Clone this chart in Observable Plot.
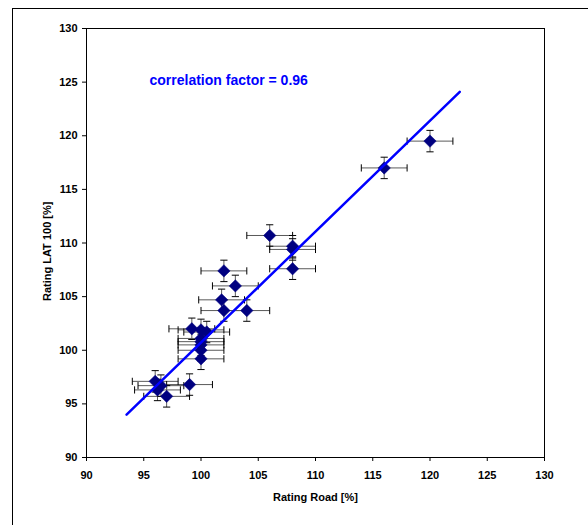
<!DOCTYPE html>
<html>
<head>
<meta charset="utf-8">
<script src="https://cdn.jsdelivr.net/npm/d3@7"></script>
<script src="https://cdn.jsdelivr.net/npm/@observablehq/plot@0.6"></script>
<style>
  html, body { margin: 0; padding: 0; background: #fff; }
  #wrap { position: relative; width: 588px; height: 525px; overflow: hidden; }
  #border { position: absolute; left: 12px; top: 8px; width: 700px; height: 700px;
            border-top: 1px solid #000; border-left: 1px solid #000; pointer-events: none; }
</style>
</head>
<body>
<div id="wrap"><div id="border"></div></div>
<script>
// Data
const roadRating = [120, 116, 106, 108, 108, 108, 102, 103, 101.8, 102, 104, 99.2, 100, 100.5, 100, 100, 100, 100, 100, 96, 96.5, 96.2, 97, 99];
const latRating  = [119.5, 117.0, 110.7, 109.7, 109.4, 107.6, 107.4, 106.0, 104.7, 103.7, 103.7, 102.0, 101.9, 101.7, 101.1, 100.8, 100.5, 100.0, 99.2, 97.1, 96.7, 96.3, 95.7, 96.8];
const roadErr = [2, 2, 2, 2, 2, 2, 2, 2, 2, 2, 2, 2, 2, 2, 2, 2, 2, 2, 2, 2, 2, 2, 2, 2];
const latErr  = [1, 1, 1, 1, 1, 1, 1, 1, 1, 1, 1, 1, 1, 1, 1, 1, 1, 1, 1, 1, 1, 1, 1, 1];
const fitX = [93.5, 122.6];
const fitY = [94.0, 124.1];
const xTicks = [90, 95, 100, 105, 110, 115, 120, 125, 130];
const yTicks = [90, 95, 100, 105, 110, 115, 120, 125, 130];
const annotation = "correlation factor = 0.96";
const xTitle = "Rating Road [%]";
const yTitle = "Rating LAT 100 [%]";

const pts = roadRating.map((x, i) => ({x, y: latRating[i], ex: roadErr[i], ey: latErr[i]}));
const fit = fitX.map((x, i) => ({x, y: fitY[i]}));

const vCap = {draw(ctx, size) { const r = Math.sqrt(size / Math.PI); ctx.moveTo(0, -r); ctx.lineTo(0, r); }};
const hCap = {draw(ctx, size) { const r = Math.sqrt(size / Math.PI); ctx.moveTo(-r, 0); ctx.lineTo(r, 0); }};

const font = "'Liberation Sans', Arial, sans-serif";

const chart = Plot.plot({
  width: 588,
  height: 525,
  marginLeft: 86,
  marginRight: 44,
  marginTop: 28,
  marginBottom: 68,
  style: {fontFamily: font, fontSize: "11px", fontWeight: "bold", color: "#000", background: "transparent", overflow: "visible"},
  x: {domain: [90, 130], ticks: xTicks, tickSize: 4, tickPadding: 10, label: null},
  y: {domain: [90, 130], ticks: yTicks, tickSize: 4, tickPadding: 5, label: null},
  marks: [
    Plot.frame({stroke: "#000", strokeWidth: 1}),
    // horizontal error bars
    Plot.link(pts, {x1: d => d.x - d.ex, x2: d => d.x + d.ex, y1: "y", y2: "y", stroke: "#5a5a5a", strokeWidth: 1}),
    Plot.dot(pts, {x: d => d.x - d.ex, y: "y", symbol: vCap, r: 3.6, stroke: "#000", strokeWidth: 1, fill: "none"}),
    Plot.dot(pts, {x: d => d.x + d.ex, y: "y", symbol: vCap, r: 3.6, stroke: "#000", strokeWidth: 1, fill: "none"}),
    // vertical error bars
    Plot.link(pts, {x1: "x", x2: "x", y1: d => d.y - d.ey, y2: d => d.y + d.ey, stroke: "#5a5a5a", strokeWidth: 1}),
    Plot.dot(pts, {x: "x", y: d => d.y - d.ey, symbol: hCap, r: 3.6, stroke: "#000", strokeWidth: 1, fill: "none"}),
    Plot.dot(pts, {x: "x", y: d => d.y + d.ey, symbol: hCap, r: 3.6, stroke: "#000", strokeWidth: 1, fill: "none"}),
    // markers
    Plot.dot(pts, {x: "x", y: "y", symbol: "diamond2", r: 5.6, fill: "#000080", stroke: "#000080", strokeWidth: 0.5}),
    // regression line
    Plot.line(fit, {x: "x", y: "y", stroke: "#0000ff", strokeWidth: 2.5}),
    // annotation
    Plot.text([annotation], {frameAnchor: "top-left", dx: 63, dy: 52, text: d => d, fill: "#0000ff", fontSize: 14, fontWeight: "bold", textAnchor: "start", lineAnchor: "middle"}),
    // axis titles
    Plot.text([xTitle], {frameAnchor: "bottom", dy: 40, text: d => d, fill: "#000", fontSize: 11, fontWeight: "bold", lineAnchor: "middle"}),
    Plot.text([yTitle], {frameAnchor: "left", dx: -39, dy: 58, text: d => d, fill: "#000", fontSize: 11, fontWeight: "bold", rotate: -90, lineAnchor: "middle"})
  ]
});
document.getElementById("wrap").prepend(chart);
</script>
</body>
</html>
